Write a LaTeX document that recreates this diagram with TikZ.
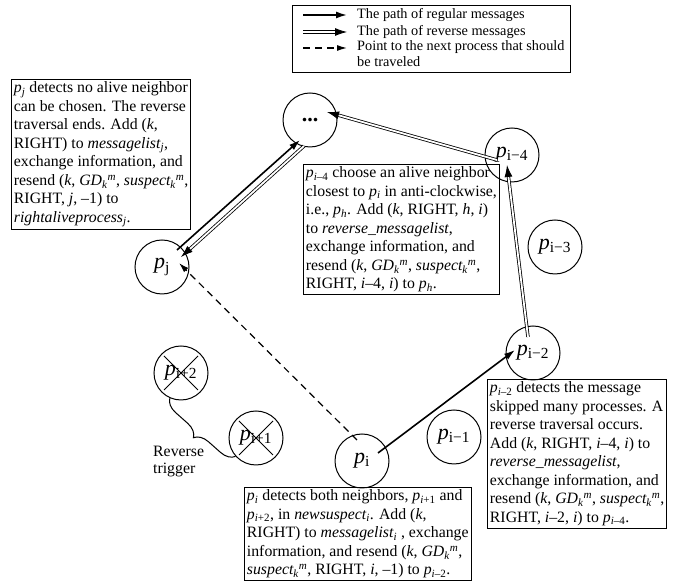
\documentclass[tikz,border=0pt]{standalone}
\usepackage{fontspec}
\setmainfont{Liberation Serif}
\usetikzlibrary{arrows.meta,calc,decorations.pathreplacing}

\newcommand{\pn}[1]{\textit{p}\textsubscript{#1}}
\newcommand{\gdk}{\textit{GD\textsubscript{k}\textsuperscript{m}}}
\newcommand{\susk}{\textit{suspect\textsubscript{k}\textsuperscript{m}}}

\tikzset{
	proc/.style={circle, draw, line width=1pt, minimum size=54pt, inner sep=0pt,
			font=\fontsize{22}{22}\selectfont},
	note/.style={draw, line width=0.9pt, align=left, anchor=north west, inner sep=2.5pt,
			font=\fontsize{15.8}{18.5}\selectfont},
	legendtext/.style={anchor=west, inner sep=0pt, align=left,
			font=\fontsize{14.3}{16}\selectfont},
	regular/.style={line width=1.6pt, -{Latex[length=11pt,width=7pt]}},
	reverse/.style={double, double distance=1.8pt, line width=0.8pt,
			-{Latex[length=12pt,width=8pt]}},
	pointer/.style={line width=1.2pt, dash pattern=on 7pt off 5pt,
			-{Latex[length=10pt,width=6pt]}}
}

\begin{document}
\begin{tikzpicture}
	\useasboundingbox (0,0) rectangle (683pt,583pt);
	\begin{scope}[x=1pt,y=1pt]

		% Legend
		\draw[line width=0.9pt] (292,578) rectangle (570,511);
		\coordinate (l1a) at (303,568); \coordinate (l1b) at (347,568);
		\coordinate (l2a) at (303,551); \coordinate (l2b) at (347,551);
		\coordinate (l3a) at (303,535); \coordinate (l3b) at (347,535);
		\draw[regular] (l1a) -- (l1b);
		\draw[reverse] (l2a) -- (l2b);
		\draw[pointer] (l3a) -- (l3b);
		\node[legendtext] (t1) at (357,568) {The path of regular messages};
		\node[legendtext] (t2) at (357,551) {The path of reverse messages};
		\node[legendtext, anchor=north west] (t3) at (357,543)
		{Point to the next process that should\\be traveled};

		% Processes on the ring
		\node[proc] (dots) at (310,463) {\textbf{...}};
		\node[proc] (pim4) at (512,428) {\pn{i−4}};
		\node[proc] (pim3) at (555,336) {\pn{i−3}};
		\node[proc] (pim2) at (533,230) {\pn{i−2}};
		\node[proc] (pim1) at (454,146) {\pn{i−1}};
		\node[proc] (pi) at (362,122) {\pn{i}};
		\node[proc] (pj) at (162,316) {\pn{j}};
		\node[proc] (pi2) at (181,210) {\pn{i+2}};
		\node[proc] (pi1) at (256,145) {\pn{i+1}};

		% Crashed processes
		\foreach \n in {pi2,pi1} {
				\draw[line width=1pt] ($(\n.center)+(-17,17)$) -- ($(\n.center)+(17,-17)$);
				\draw[line width=1pt] ($(\n.center)+(-17,-17)$) -- ($(\n.center)+(17,17)$);
			}

		% Reverse trigger
		\draw[line width=1pt, decorate, decoration={brace, amplitude=14pt}]
		(pi1.222) -- (pi2.246);
		\node[anchor=north west, inner sep=0pt, align=left,
			font=\fontsize{15.8}{17}\selectfont] (trig) at (153,137) {Reverse\\trigger};

		% Message paths
		\draw[regular] ($(pi.center)+(16,8)$) -- ($(pim2.center)+(-18,3)$);
		\draw[reverse] ($(pim2.center)+(-5,16)$) -- ($(pim4.center)+(-5,-10)$);
		\draw[reverse] ($(pim4.center)+(-15,-5)$) -- ($(dots.center)+(17,8)$);
		\draw[regular] ($(pj.center)+(15,17)$) -- ($(dots.center)+(-10,-20)$);
		\draw[reverse] ($(dots.center)+(-6,-26)$) -- ($(pj.center)+(19,10)$);
		\draw[pointer] ($(pi.center)+(-5,21)$) -- ($(pj.center)+(17,4)$);

		% Notes
		\node[note] (npj) at (11,504) {%
			\pn{\textit{j}} detects no alive neighbor\\
			can be chosen. The reverse\\
			traversal ends. Add (\textit{k},\\
			RIGHT) to \textit{messagelist\textsubscript{j}},\\
			exchange information, and\\
			resend (\textit{k}, \gdk, \susk,\\
			RIGHT, \textit{j}, –1) to\\
			\textit{rightaliveprocess\textsubscript{j}}.};
		\node[note] (npim4) at (303,419) {%
			\pn{\textit{i}–4} choose an alive neighbor\\
			closest to \pn{\textit{i}} in anti-clockwise,\\
			i.e., \pn{\textit{h}}. Add (\textit{k}, RIGHT, \textit{h}, \textit{i})\\
			to \textit{reverse\_messagelist},\\
			exchange information, and\\
			resend (\textit{k}, \gdk, \susk,\\
			RIGHT, \textit{i}–4, \textit{i}) to \pn{\textit{h}}.};
		\node[note] (npim2) at (487,204) {%
			\pn{\textit{i}–2} detects the message\\
			skipped many processes. A\\
			reverse traversal occurs.\\
			Add (\textit{k}, RIGHT, \textit{i}–4, \textit{i}) to\\
			\textit{reverse\_messagelist},\\
			exchange information, and\\
			resend (\textit{k}, \gdk, \susk,\\
			RIGHT, \textit{i}–2, \textit{i}) to \pn{\textit{i}–4}.};
		\node[note] (npi) at (244,96) {%
			\pn{\textit{i}} detects both neighbors, \pn{\textit{i}+1} and\\
			\pn{\textit{i}+2}, in \textit{newsuspect\textsubscript{i}}. Add (\textit{k},\\
			RIGHT) to \textit{messagelist\textsubscript{i}} , exchange\\
			information, and resend (\textit{k}, \gdk,\\
			\susk, RIGHT, \textit{i}, –1) to \pn{\textit{i}–2}.};

	\end{scope}
\end{tikzpicture}
\end{document}
